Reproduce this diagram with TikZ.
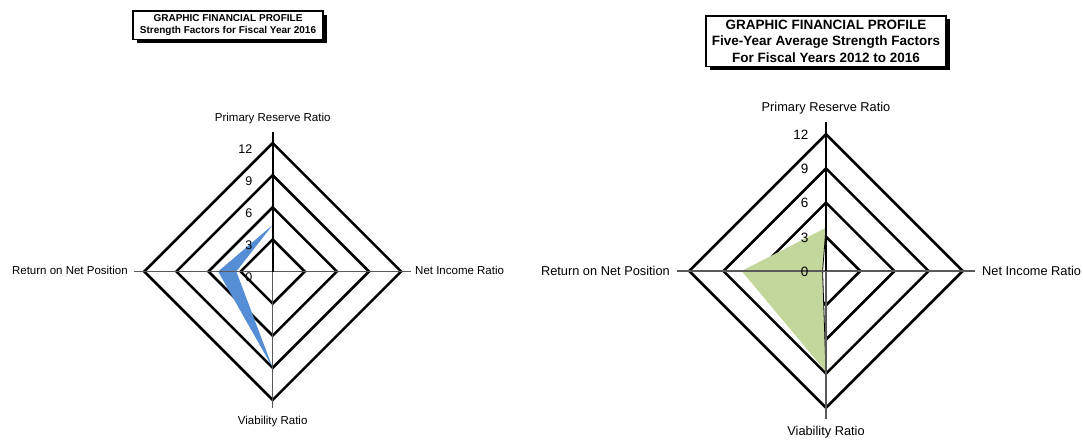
\documentclass[tikz,border=0pt]{standalone}
\usepackage{fontspec}
\setmainfont{Liberation Sans}
\usetikzlibrary{shadows}
\definecolor{fillblue}{RGB}{85,142,213}
\definecolor{fillgreen}{RGB}{195,214,155}
\begin{document}
\begin{tikzpicture}[x=1pt,y=-1pt,
  ring/.style={line width=2.6pt, line join=miter, miter limit=20},
  axisline/.style={line width=1.1pt, draw=black!65},
  valaxis/.style={line width=1.7pt, draw=black},
  thinline/.style={line width=0.8pt, draw=black},
  catA/.style={inner sep=0pt, font=\fontsize{11.5}{13}\selectfont},
  catB/.style={inner sep=0pt, font=\fontsize{12.8}{14}\selectfont},
  tickA/.style={inner sep=0pt, anchor=east, font=\fontsize{12.5}{13}\selectfont},
  tickB/.style={inner sep=0pt, anchor=east, font=\fontsize{13.5}{14}\selectfont},
  titlebox/.style={draw=black, line width=1.3pt, fill=white, align=center, inner sep=0pt,
    drop shadow={shadow xshift=3.5pt, shadow yshift=-3.5pt, opacity=1, fill=black}}
]
\useasboundingbox (0,0) rectangle (1083,439);

% ---------- titles ----------
\node[titlebox, minimum width=190pt, minimum height=28.5pt,
      font=\bfseries\fontsize{10}{11.7}\selectfont] (title1) at (228,25.3)
  {GRAPHIC FINANCIAL PROFILE\\Strength Factors for Fiscal Year 2016};
\node[titlebox, minimum width=240pt, minimum height=50.7pt,
      font=\bfseries\fontsize{13.5}{16.8}\selectfont] (title2) at (826,41.3)
  {GRAPHIC FINANCIAL PROFILE\\Five-Year Average Strength Factors\\For Fiscal Years 2012 to 2016};

% ---------- left chart ----------
\begin{scope}[shift={(272.7,271.5)}, x=10.7pt, y=10.7pt]
  \foreach \r in {3,6,9,12}
    \draw[ring] (\r,0) -- (0,\r) -- (-\r,0) -- (0,-\r) -- cycle;
  \fill[fillblue] (0,4.35) -- (-3.4,0) -- (0,-9) -- (-5.1,0) -- cycle;
  \draw[axisline] (-12.95,0) -- (12.95,0);
  \draw[axisline] (0,0) -- (0,-12.8);
  \draw[valaxis] (0,0) -- (0,13.05);
\end{scope}
\node[catA] (lprr) at (272.7,119) {Primary Reserve Ratio};
\node[catA] (lvr) at (272.7,422) {Viability Ratio};
\node[catA, anchor=east] (lrnp) at (128,270.5) {Return on Net Position};
\node[catA, anchor=west] (lnir) at (415,270.5) {Net Income Ratio};
\node[tickA] (lt12) at (252.5,149.2) {12};
\node[tickA] (lt9) at (252.5,181.3) {9};
\node[tickA] (lt6) at (252.5,213.4) {6};
\node[tickA] (lt3) at (252.5,245.5) {3};
\node[tickA] (lt0) at (252.5,277.3) {0};

% ---------- right chart ----------
\begin{scope}[shift={(826,271)}, x=11.4pt, y=11.4pt]
  \foreach \r in {3,6,9,12}
    \draw[ring] (\r,0) -- (0,\r) -- (-\r,0) -- (0,-\r) -- cycle;
  \fill[fillgreen] (0,3.8) -- (-0.3,0) -- (0,-8.85) -- (-7.4,0) -- cycle;
  \draw[thinline] (0,3.8) -- (-0.3,0) -- (0,-8.85);
  \draw[axisline] (-13.05,0) -- (13.05,0);
  \draw[axisline] (0,0) -- (0,-12.95);
  \draw[valaxis] (0,0) -- (0,13.1);
\end{scope}
\node[catB] (rprr) at (826,108) {Primary Reserve Ratio};
\node[catB] (rvr) at (826,432) {Viability Ratio};
\node[catB, anchor=east] (rrnp) at (670,270.5) {Return on Net Position};
\node[catB, anchor=west] (rnir) at (982,270.5) {Net Income Ratio};
\node[tickB] (rt12) at (808.5,134.6) {12};
\node[tickB] (rt9) at (808.5,168.8) {9};
\node[tickB] (rt6) at (808.5,203) {6};
\node[tickB] (rt3) at (808.5,237.5) {3};
\node[tickB] (rt0) at (808.5,271.5) {0};
\end{tikzpicture}
\end{document}
